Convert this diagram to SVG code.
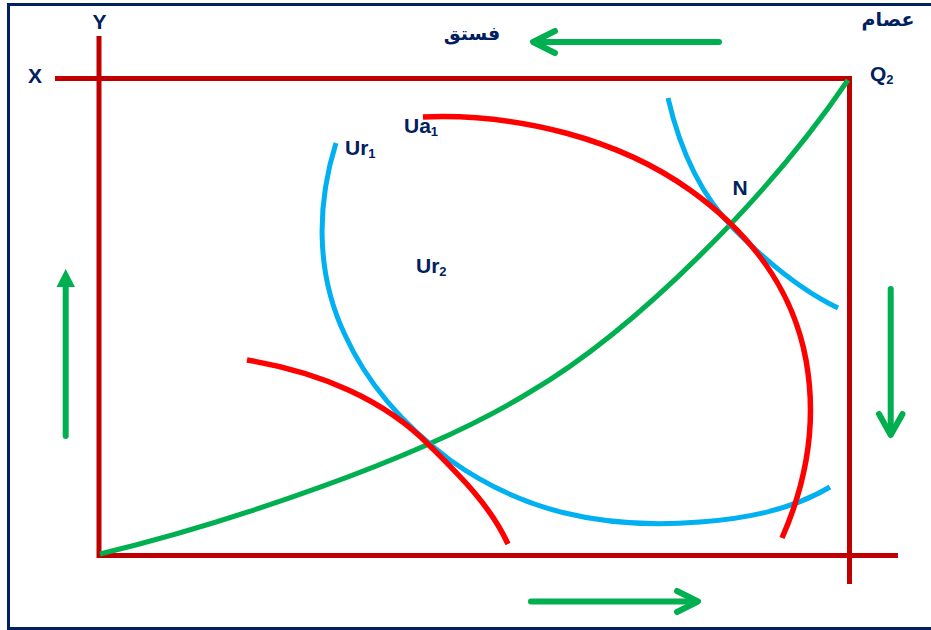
<svg xmlns="http://www.w3.org/2000/svg" width="931" height="630" viewBox="0 0 931 630">
<style>
.axis{stroke:#C00000;stroke-width:5;fill:none}
.red{stroke:#FF0000;stroke-width:5.5;fill:none}
.cyan{stroke:#00B0F0;stroke-width:5;fill:none}
.green{stroke:#00B050;stroke-width:5;fill:none}
.arr{stroke:#00B050;stroke-width:6;fill:none;stroke-linecap:round;stroke-linejoin:round}
.lbl{font-family:"Liberation Sans",Arial,sans-serif;font-weight:bold;font-size:21px;fill:#002060}
.sub{font-size:13px}
.ar{font-family:"DejaVu Sans",sans-serif;font-weight:bold;font-size:19px;fill:#002060}
</style>
<rect width="931" height="630" fill="#FFFFFF"/>
<rect x="8.5" y="4.5" width="930" height="624" fill="none" stroke="#002060" stroke-width="3"/>
<g id="axes">
<line class="axis" x1="55" y1="78.5" x2="852" y2="78.5"/>
<line class="axis" x1="99" y1="36" x2="99" y2="558"/>
<line class="axis" x1="97" y1="555.5" x2="898" y2="555.5"/>
<line class="axis" x1="849.5" y1="76" x2="849.5" y2="584"/>
</g>
<g id="connectors">
<path id="green-curve" class="green" d="M100,554 C220,525 420,460 530,392 C636,330 770,195 848,80"/>
<path id="ur1" class="cyan" d="M336,143 C318,200 314,270 345,335 C370,390 410,430 450,460 C520,510 600,530 700,522 C760,518 800,505 830,487"/>
<path id="ur-right" class="cyan" d="M668,98 C680,150 700,195 735,230 C765,260 800,290 838,308"/>
<path id="ua1" class="red" d="M423,117 C520,113 620,140 690,190 C760,240 795,300 806,360 C815,410 812,470 782,538"/>
<path id="ur2-curve" class="red" d="M247,360 C320,372 385,400 430,446 C460,476 490,505 508,544"/>
</g>
<g id="arrows">
<g id="arrow-top"><line class="arr" x1="719" y1="42" x2="534" y2="42"/><polyline class="arr" points="555,31 533,42 555,53"/></g>
<g id="arrow-bottom"><line class="arr" x1="531" y1="601.5" x2="696" y2="601.5"/><polyline class="arr" points="677,591 698,601.5 677,612"/></g>
<g id="arrow-left"><line class="arr" x1="65.7" y1="436" x2="65.7" y2="284" stroke-linecap="butt"/><polygon points="65.7,269 56.5,287 75,287" fill="#00B050"/></g>
<g id="arrow-right"><line class="arr" x1="890.7" y1="289" x2="890.7" y2="434"/><polyline class="arr" points="879,414 890.7,435 902.5,414"/></g>
</g>
<g id="labels">
<text class="lbl" x="99.5" y="29" text-anchor="middle">Y</text>
<text class="lbl" x="35" y="83" text-anchor="middle">X</text>
<text class="lbl" x="870" y="81">Q<tspan class="sub" dy="3">2</tspan></text>
<text class="lbl" x="345" y="155">Ur<tspan class="sub" dy="3">1</tspan></text>
<text class="lbl" x="404" y="133">Ua<tspan class="sub" dy="3">1</tspan></text>
<text class="lbl" x="416" y="273">Ur<tspan class="sub" dy="3">2</tspan></text>
<text class="lbl" x="740" y="195" text-anchor="middle">N</text>
<text class="ar" x="888" y="26" text-anchor="middle">عصام</text>
<text class="ar" x="472" y="40" text-anchor="middle">فستق</text>
</g>
</svg>
